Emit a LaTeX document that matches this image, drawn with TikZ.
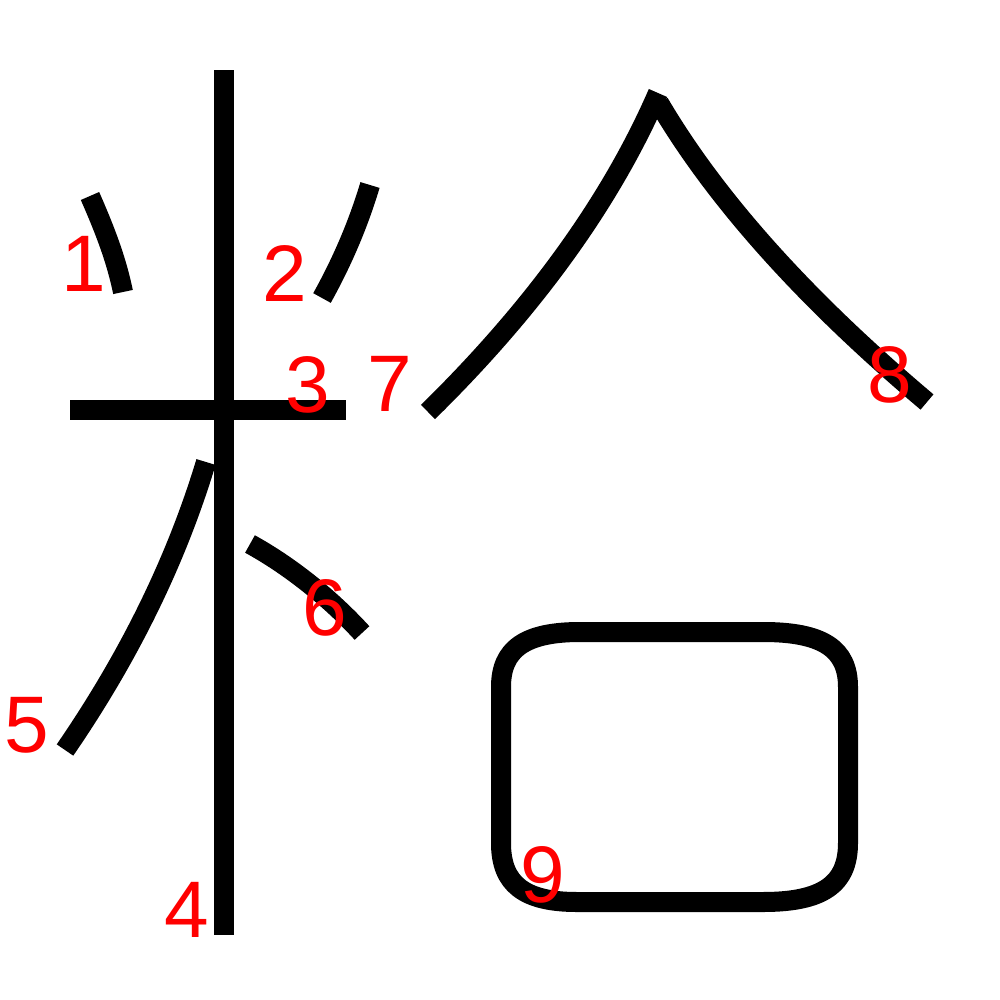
\documentclass[tikz,border=0pt]{standalone}
\usepackage{fontspec}
\setmainfont{Liberation Sans}
\tikzset{
  trazo/.style={line width=0.2cm, black},
  num/.style={red, anchor=base, inner sep=0pt, font=\fontsize{22.8}{24}\selectfont}
}
\begin{document}
\begin{tikzpicture}[x=0.01cm, y=-0.01cm]
  \useasboundingbox (0,0) rectangle (1000,1000);
  % Trazos
  \draw[trazo] (90,196) .. controls (104,228) and (116,258) .. (123,292);
  \draw[trazo] (370,185) .. controls (358,225) and (342,262) .. (322,298);
  \draw[trazo] (70,410) -- (346,410);
  \draw[trazo] (224,70) -- (224,935);
  \draw[trazo] (206,462) .. controls (177,558) and (131,654) .. (65,750);
  \draw[trazo] (250,544) .. controls (290,566) and (330,598) .. (362,633);
  \draw[trazo] (658,93) .. controls (612,199) and (536,306) .. (428,412);
  \draw[trazo] (659,103) .. controls (716,200) and (806,300) .. (927,402);
  \draw[trazo] (501,687) .. controls (501,649) and (525,632) .. (580,632) -- (763,632)
    .. controls (823,632) and (848,649) .. (848,687) -- (848,843)
    .. controls (848,884) and (823,902) .. (763,902) -- (577,902)
    .. controls (524,902) and (501,884) .. (501,843) -- cycle;
  % Numeros
  \node[num] (n1) at (84,291) {1};
  \node[num] (n2) at (285,301) {2};
  \node[num] (n3) at (308,412) {3};
  \node[num] (n4) at (187,937) {4};
  \node[num] (n5) at (27,752) {5};
  \node[num] (n6) at (325,635) {6};
  \node[num] (n7) at (390,411) {7};
  \node[num] (n8) at (890,402) {8};
  \node[num] (n9) at (543,902) {9};
\end{tikzpicture}
\end{document}
